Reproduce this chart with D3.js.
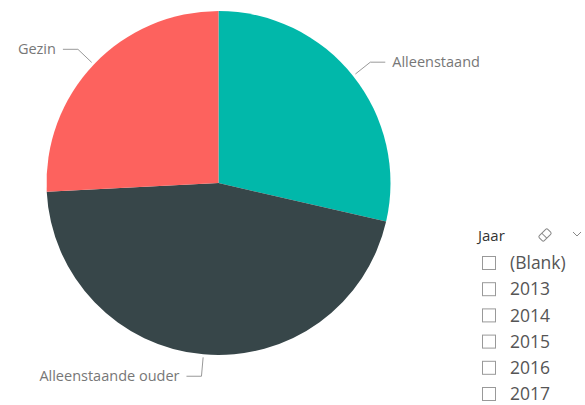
<!DOCTYPE html>
<html>
<head>
<meta charset="utf-8">
<script src="https://cdn.jsdelivr.net/npm/d3@7/dist/d3.min.js"></script>
<style>
  html, body { margin: 0; padding: 0; background: #fff; }
  svg { display: block; }
  text { font-family: "Open Sans", "Noto Sans", sans-serif; }
</style>
</head>
<body>
<svg id="chart" width="585" height="405"></svg>
<script>
// Household type shares (percent of total)
const categories = ["Alleenstaand", "Alleenstaande ouder", "Gezin"];
const shares = [28.6, 45.6, 25.8];
const colors = ["#01B8AA", "#374649", "#FD625E"];

// Year slicer entries
const slicerTitle = "Jaar";
const years = ["(Blank)", "2013", "2014", "2015", "2016", "2017"];

const svg = d3.select("#chart");
const cx = 218.5, cy = 183, radius = 172;

const data = categories.map((c, i) => ({ name: c, value: shares[i], color: colors[i] }));
const pie = d3.pie().sort(null).value(d => d.value);
const arcs = pie(data);

const arc = d3.arc().innerRadius(0).outerRadius(radius);

const g = svg.append("g").attr("transform", `translate(${cx},${cy})`);

g.selectAll("path.slice")
  .data(arcs)
  .join("path")
  .attr("class", "slice")
  .attr("d", arc)
  .attr("fill", d => d.data.color);

// Leader lines and labels
const startR = radius + 3, elbowR = radius + 22, tail = 15, gap = 7;
arcs.forEach(a => {
  const mid = (a.startAngle + a.endAngle) / 2;
  const sx = Math.sin(mid), sy = -Math.cos(mid);
  const p0 = [sx * startR, sy * startR];
  const p1 = [sx * elbowR, sy * elbowR];
  const right = sx > 0;
  const p2 = [p1[0] + (right ? tail : -tail), p1[1]];
  g.append("polyline")
    .attr("points", [p0, p1, p2].map(p => p.join(",")).join(" "))
    .attr("fill", "none")
    .attr("stroke", "#999")
    .attr("stroke-width", 1);
  g.append("text")
    .attr("x", p2[0] + (right ? gap : -gap))
    .attr("y", p2[1])
    .attr("dy", "0.35em")
    .attr("text-anchor", right ? "start" : "end")
    .attr("font-size", 14.5)
    .attr("fill", "#777")
    .text(a.data.name);
});

// Slicer
const sl = svg.append("g").attr("transform", "translate(478,0)");
sl.append("text")
  .attr("x", 0).attr("y", 236).attr("dy", "0.35em")
  .attr("font-size", 15).attr("fill", "#333")
  .text(slicerTitle);

// eraser icon
const er = sl.append("g").attr("transform", "translate(67,235) rotate(-45)");
er.append("rect").attr("x", -6).attr("y", -3.5).attr("width", 12).attr("height", 7)
  .attr("rx", 1.5).attr("fill", "none").attr("stroke", "#888").attr("stroke-width", 1);
er.append("line").attr("x1", -1).attr("y1", -3.5).attr("x2", -1).attr("y2", 3.5)
  .attr("stroke", "#888").attr("stroke-width", 1);

// chevron
sl.append("polyline")
  .attr("points", "95,232 99,236 103,232")
  .attr("fill", "none").attr("stroke", "#888").attr("stroke-width", 1);

const rowY = d3.scalePoint().domain(years).range([263, 394]);
const rows = sl.selectAll("g.row").data(years).join("g")
  .attr("class", "row")
  .attr("transform", d => `translate(0,${rowY(d)})`);
rows.append("rect")
  .attr("x", 4.5).attr("y", -6.5).attr("width", 13).attr("height", 13)
  .attr("fill", "#fff").attr("stroke", "#999").attr("stroke-width", 1);
rows.append("text")
  .attr("x", 32).attr("y", 0).attr("dy", "0.35em")
  .attr("font-size", 17.5).attr("fill", "#555")
  .text(d => d);
</script>
</body>
</html>
